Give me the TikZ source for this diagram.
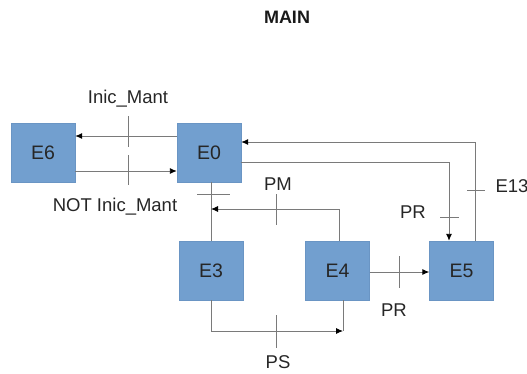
\documentclass[tikz,border=0pt]{standalone}
\usepackage{fontspec}
\setmainfont{Liberation Sans}
\usetikzlibrary{arrows.meta}
\definecolor{boxfill}{HTML}{729FCF}
\definecolor{boxline}{HTML}{6A95C4}
\definecolor{wire}{HTML}{7A7A7A}
\tikzset{
  state/.style={draw=boxline, fill=boxfill, minimum width=64pt, minimum height=59pt,
    inner sep=0pt, font=\fontsize{19.5}{22}\selectfont, text=black!85},
  wire/.style={draw=wire, line width=0.9pt},
  flow/.style={wire, -{Latex[length=7pt,width=6pt,black]}},
  tick/.style={draw=wire, line width=0.9pt},
  lbl/.style={font=\fontsize{18.5}{21}\selectfont, text=black!85, inner sep=0pt}
}
\begin{document}
\begin{tikzpicture}[x=1pt, y=-1pt]
\useasboundingbox (0,0) rectangle (527,373);

% title
\node[font=\bfseries\fontsize{18}{20}\selectfont, text=black!90] (title) at (287,17) {MAIN};

% states
\node[state] (E6) at (43,152.5) {E6};
\node[state] (E0) at (209,152.5) {E0};
\node[state] (E3) at (211,270.5) {E3};
\node[state] (E4) at (337.5,270.5) {E4};
\node[state] (E5) at (461.5,270.5) {E5};

% E0 <-> E6
\draw[flow] (E0.west |- 0,136) -- (E6.east |- 0,136);
\draw[flow] (E6.east |- 0,171) -- (E0.west |- 0,171);
\draw[tick] (128,116) -- (128,147);
\draw[tick] (128,155) -- (128,185);
\node[lbl] (linic) at (128,99) {Inic\_Mant};
\node[lbl] (lnot) at (115,207) {NOT Inic\_Mant};

% E0 -- E3
\draw[wire] (E0.south -| 211,0) -- (E3.north -| 211,0);
\draw[tick] (197,194) -- (230,194);

% E4 -> E0/E3 line
\coordinate (j43) at (211,209);
\draw[flow] (E4.north -| 339,0) |- (j43);
\draw[tick] (276,194) -- (276,225);
\node[lbl] (lpm) at (278,184) {PM};

% E3 -> E4
\coordinate (j34) at (343,331);
\draw[wire] (E4.south -| 343,0) -- (j34);
\draw[flow] (E3.south -| 211,0) |- (j34);
\draw[tick] (276,315) -- (276,348);
\node[lbl] (lps) at (278,362) {PS};

% E4 -> E5
\draw[flow] (E4.east |- 0,272) -- (E5.west |- 0,272);
\draw[tick] (399,256) -- (399,288);
\node[lbl] (lpr1) at (394,310) {PR};

% E0 -> E5
\draw[flow] (E0.east |- 0,162) -| (E5.north -| 449,0);
\draw[tick] (440,217) -- (459,217);
\node[lbl] (lpr2) at (413,212) {PR};

% E5 -> E0
\draw[flow] (E5.north -| 475,0) |- (E0.east |- 0,142);
\draw[tick] (467,190) -- (485,190);
\node[lbl] (le13) at (512,186) {E13};
\end{tikzpicture}
\end{document}
